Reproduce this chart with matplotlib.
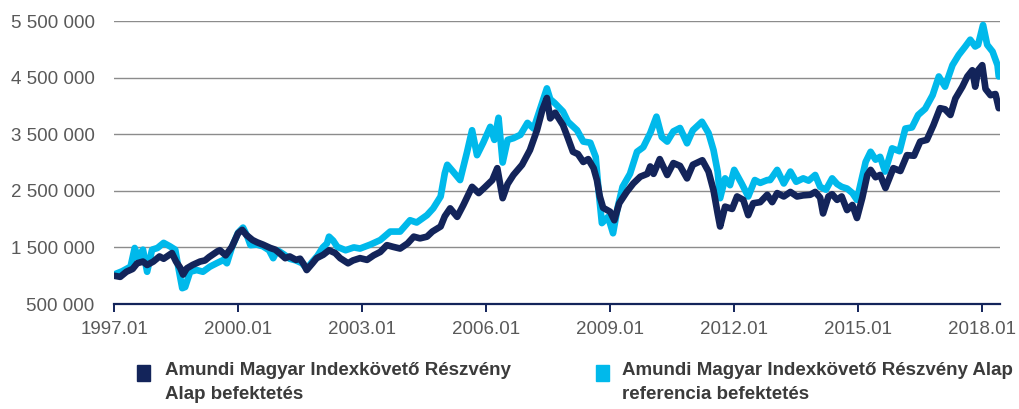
import matplotlib.pyplot as plt
from matplotlib.patches import Rectangle
from matplotlib.ticker import FuncFormatter

# dates as decimal years, values in million HUF
fund_x = [1997.00, 1997.15, 1997.30, 1997.45, 1997.56, 1997.70, 1997.80, 1997.95, 1998.10, 1998.20,
          1998.40, 1998.50, 1998.60, 1998.67, 1998.76, 1998.90, 1999.08, 1999.20, 1999.30, 1999.50,
          1999.56, 1999.70, 1999.85, 2000.00, 2000.10, 2000.20, 2000.35, 2000.46, 2000.60, 2000.78,
          2000.90, 2001.00, 2001.14, 2001.25, 2001.40, 2001.50, 2001.60, 2001.66, 2001.80, 2001.90,
          2002.06, 2002.20, 2002.35, 2002.47, 2002.66, 2002.78, 2002.95, 2003.12, 2003.28, 2003.44,
          2003.60, 2003.75, 2003.92, 2004.10, 2004.25, 2004.40, 2004.57, 2004.70, 2004.90, 2005.00,
          2005.13, 2005.30, 2005.45, 2005.66, 2005.82, 2005.98, 2006.15, 2006.27, 2006.40, 2006.52,
          2006.66, 2006.87, 2007.06, 2007.23, 2007.36, 2007.47, 2007.55, 2007.67, 2007.86, 2007.98,
          2008.10, 2008.22, 2008.35, 2008.47, 2008.60, 2008.68, 2008.75, 2008.83, 2009.00, 2009.10,
          2009.22, 2009.40, 2009.56, 2009.73, 2009.90, 2009.97, 2010.05, 2010.20, 2010.38, 2010.53,
          2010.69, 2010.86, 2011.00, 2011.23, 2011.38, 2011.50, 2011.60, 2011.66, 2011.78, 2011.95,
          2012.07, 2012.22, 2012.34, 2012.46, 2012.63, 2012.80, 2012.92, 2013.04, 2013.20, 2013.36,
          2013.52, 2013.67, 2013.84, 2013.96, 2014.08, 2014.15, 2014.28, 2014.37, 2014.49, 2014.60,
          2014.73, 2014.86, 2014.97, 2015.10, 2015.22, 2015.30, 2015.42, 2015.53, 2015.66, 2015.85,
          2016.02, 2016.18, 2016.35, 2016.50, 2016.66, 2016.82, 2016.98, 2017.10, 2017.23, 2017.35,
          2017.52, 2017.64, 2017.76, 2017.83, 2017.90, 2018.00, 2018.08, 2018.20, 2018.32, 2018.40]
fund_y = [1.00, 0.98, 1.07, 1.12, 1.22, 1.25, 1.19, 1.25, 1.34, 1.30,
          1.40, 1.25, 1.14, 1.02, 1.13, 1.19, 1.25, 1.27, 1.33, 1.43,
          1.45, 1.36, 1.51, 1.75, 1.81, 1.72, 1.63, 1.59, 1.55, 1.49,
          1.46, 1.40, 1.31, 1.34, 1.28, 1.30, 1.19, 1.10, 1.22, 1.31,
          1.37, 1.45, 1.40, 1.31, 1.22, 1.27, 1.31, 1.28, 1.36, 1.42,
          1.54, 1.51, 1.48, 1.57, 1.69, 1.66, 1.69, 1.78, 1.87, 2.05,
          2.19, 2.04, 2.25, 2.57, 2.46, 2.57, 2.69, 2.90, 2.37, 2.62,
          2.78, 2.96, 3.22, 3.57, 3.93, 4.14, 3.78, 3.88, 3.66, 3.43,
          3.19, 3.15, 3.01, 3.06, 2.90, 2.69, 2.40, 2.20, 2.13, 1.98,
          2.28, 2.48, 2.63, 2.75, 2.80, 2.93, 2.80, 3.06, 2.78, 2.99,
          2.94, 2.72, 2.96, 3.04, 2.84, 2.51, 2.10, 1.87, 2.22, 2.18,
          2.40, 2.34, 2.07, 2.28, 2.30, 2.43, 2.30, 2.46, 2.40, 2.48,
          2.40, 2.42, 2.43, 2.48, 2.38, 2.10, 2.40, 2.44, 2.34, 2.40,
          2.16, 2.25, 2.02, 2.38, 2.78, 2.87, 2.74, 2.78, 2.55, 2.90,
          2.85, 3.13, 3.12, 3.37, 3.40, 3.66, 3.96, 3.94, 3.84, 4.13,
          4.34, 4.52, 4.63, 4.34, 4.63, 4.72, 4.30, 4.19, 4.21, 3.96]

ref_x = [1997.00, 1997.20, 1997.40, 1997.50, 1997.58, 1997.70, 1997.80, 1997.92, 1998.05, 1998.20,
         1998.35, 1998.48, 1998.55, 1998.65, 1998.72, 1998.84, 1999.00, 1999.15, 1999.32, 1999.48,
         1999.65, 1999.73, 1999.85, 2000.00, 2000.12, 2000.22, 2000.30, 2000.45, 2000.60, 2000.75,
         2000.85, 2000.95, 2001.10, 2001.25, 2001.40, 2001.55, 2001.66, 2001.80, 2001.92, 2002.05,
         2002.15, 2002.20, 2002.30, 2002.40, 2002.60, 2002.80, 2002.95, 2003.20, 2003.44, 2003.68,
         2003.92, 2004.16, 2004.32, 2004.57, 2004.72, 2004.90, 2005.00, 2005.06, 2005.20, 2005.37,
         2005.54, 2005.66, 2005.78, 2005.93, 2006.10, 2006.20, 2006.30, 2006.40, 2006.52, 2006.66,
         2006.83, 2007.00, 2007.15, 2007.30, 2007.47, 2007.55, 2007.66, 2007.86, 2007.98, 2008.20,
         2008.35, 2008.52, 2008.65, 2008.72, 2008.80, 2008.95, 2009.07, 2009.18, 2009.30, 2009.48,
         2009.65, 2009.80, 2009.97, 2010.12, 2010.25, 2010.38, 2010.53, 2010.69, 2010.86, 2011.00,
         2011.22, 2011.38, 2011.50, 2011.60, 2011.66, 2011.78, 2011.90, 2012.00, 2012.18, 2012.34,
         2012.50, 2012.63, 2012.80, 2012.87, 2013.04, 2013.20, 2013.36, 2013.50, 2013.67, 2013.80,
         2013.96, 2014.08, 2014.22, 2014.37, 2014.49, 2014.60, 2014.73, 2014.86, 2014.97, 2015.05,
         2015.18, 2015.30, 2015.42, 2015.53, 2015.65, 2015.82, 2016.00, 2016.14, 2016.30, 2016.45,
         2016.62, 2016.80, 2016.95, 2017.10, 2017.28, 2017.43, 2017.59, 2017.71, 2017.83, 2017.90,
         2018.02, 2018.12, 2018.25, 2018.37, 2018.40]
ref_y = [1.02, 1.08, 1.16, 1.49, 1.32, 1.46, 1.07, 1.46, 1.49, 1.58,
         1.52, 1.46, 1.17, 0.78, 0.80, 1.07, 1.10, 1.07, 1.16, 1.22,
         1.28, 1.22, 1.50, 1.76, 1.85, 1.70, 1.54, 1.55, 1.52, 1.45,
         1.31, 1.45, 1.38, 1.30, 1.27, 1.22, 1.12, 1.25, 1.35, 1.50,
         1.57, 1.69, 1.62, 1.51, 1.45, 1.50, 1.48, 1.55, 1.63, 1.78,
         1.78, 1.98, 1.94, 2.07, 2.19, 2.40, 2.81, 2.96, 2.84, 2.69,
         3.19, 3.57, 3.13, 3.35, 3.63, 3.40, 3.79, 3.00, 3.40, 3.43,
         3.49, 3.70, 3.60, 3.93, 4.31, 4.12, 4.05, 3.90, 3.72, 3.57,
         3.37, 3.35, 3.10, 2.51, 1.93, 2.04, 1.75, 2.20, 2.57, 2.80,
         3.19, 3.27, 3.52, 3.81, 3.45, 3.37, 3.55, 3.61, 3.34, 3.57,
         3.72, 3.52, 3.22, 2.84, 2.37, 2.72, 2.60, 2.87, 2.63, 2.40,
         2.69, 2.64, 2.69, 2.69, 2.87, 2.63, 2.84, 2.66, 2.72, 2.68,
         2.78, 2.57, 2.52, 2.72, 2.62, 2.57, 2.54, 2.46, 2.34, 2.60,
         3.01, 3.19, 3.05, 3.10, 2.84, 3.25, 3.20, 3.60, 3.62, 3.84,
         3.95, 4.19, 4.52, 4.34, 4.72, 4.90, 5.05, 5.17, 5.05, 5.08,
         5.43, 5.08, 4.96, 4.72, 4.52]

x_ticks = [1997, 2000, 2003, 2006, 2009, 2012, 2015, 2018]
x_labels = ['1997.01', '2000.01', '2003.01', '2006.01', '2009.01', '2012.01', '2015.01', '2018.01']
y_ticks = [500000, 1500000, 2500000, 3500000, 4500000, 5500000]

labels = ['Amundi Magyar Indexkövető Részvény\nAlap befektetés',
          'Amundi Magyar Indexkövető Részvény Alap\nreferencia befektetés']
dark = '#13245a'
light = '#00b9eb'

plt.rcParams['font.family'] = ['Liberation Sans', 'DejaVu Sans']

fig = plt.figure(figsize=(10.2, 4.09), dpi=100)
ax = fig.add_axes([0.1118, 0.2567, 0.8686, 0.6919])

ax.plot(ref_x, [v * 1e6 for v in ref_y], color=light, lw=4.8,
        solid_joinstyle='round', solid_capstyle='round', zorder=3)
ax.plot(fund_x, [v * 1e6 for v in fund_y], color=dark, lw=4.8,
        solid_joinstyle='round', solid_capstyle='round', zorder=4)

ax.set_xlim(1997, 2018.43)
ax.set_ylim(500000, 5500000)
ax.set_yticks(y_ticks)
ax.yaxis.set_major_formatter(FuncFormatter(lambda v, p: f'{int(v):,}'.replace(',', ' ')))
ax.set_xticks(x_ticks)
ax.set_xticklabels(x_labels)
ax.grid(axis='y', color='#8c8c8c', lw=1.0)
ax.set_axisbelow(True)

for s in ['left', 'right', 'top']:
    ax.spines[s].set_visible(False)
ax.spines['bottom'].set_color(dark)
ax.spines['bottom'].set_linewidth(1.6)
ax.spines['bottom'].set_zorder(5)
ax.tick_params(axis='y', length=0, pad=14, labelsize=13.5, labelcolor='#595959')
ax.tick_params(axis='x', length=6, width=1.4, color=dark, pad=6, labelsize=13.5, labelcolor='#595959')

# legend, drawn by hand to match the two-column wrapped layout
for xm, xt, col, lab in [(137, 165, dark, labels[0]), (596, 622, light, labels[1])]:
    fig.patches.append(Rectangle((xm / 1020, 1 - 381 / 409), 13 / 1020, 16 / 409,
                                 transform=fig.transFigure, color=col))
    fig.text(xt / 1020, 1 - 362 / 409, lab, ha='left', va='top', fontsize=13.5,
             fontweight='bold', color='#3b3b3b', linespacing=1.55)

fig.savefig('out.png', dpi=100)
